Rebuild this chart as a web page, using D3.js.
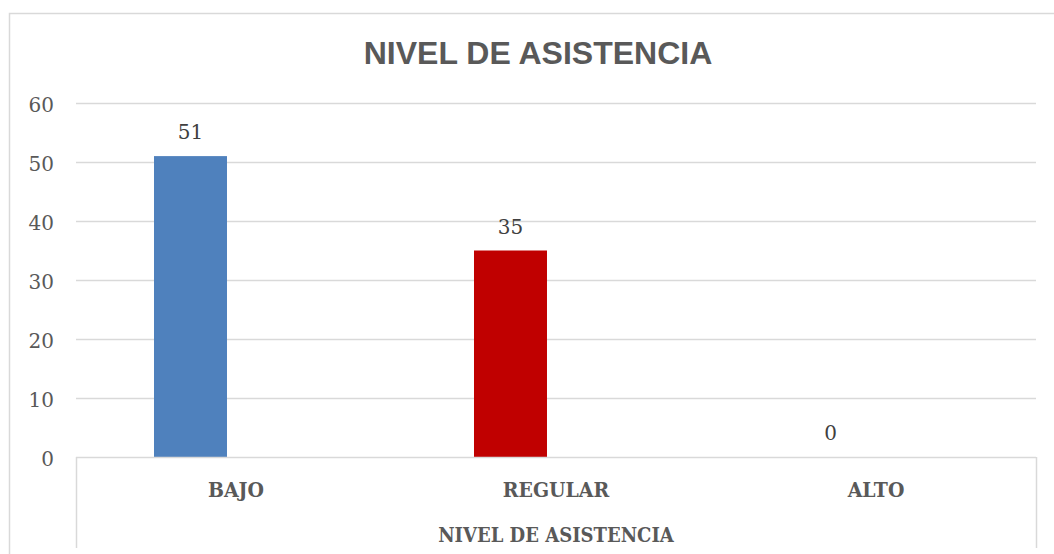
<!DOCTYPE html>
<html>
<head>
<meta charset="utf-8">
<script src="https://cdn.jsdelivr.net/npm/d3@7/dist/d3.min.js"></script>
<style>
  html, body { margin: 0; padding: 0; background: #ffffff; }
  svg { display: block; }
</style>
</head>
<body>
<svg id="chart" width="1054" height="554"></svg>
<script>
const chartTitle = "NIVEL DE ASISTENCIA";
const axisTitle = "NIVEL DE ASISTENCIA";
const categories = ["BAJO", "REGULAR", "ALTO"];
const values = [51, 35, 0];
const barColors = ["#4F81BD", "#C00000", "#9BBB59"];
const seriesNames = ["Serie1", "Serie2"];
const yTicks = [0, 10, 20, 30, 40, 50, 60];

const svg = d3.select("#chart");
const plot = { left: 76, right: 1036, top: 103, bottom: 457 };

// outer chart border
svg.append("rect")
  .attr("x", 9.5).attr("y", 13.5)
  .attr("width", 1060).attr("height", 560)
  .attr("fill", "none").attr("stroke", "#d9d9d9").attr("stroke-width", 1.5);

const x = d3.scaleBand().domain(categories).range([plot.left, plot.right]);
const xs = d3.scaleBand().domain(seriesNames).range([0, x.bandwidth()])
  .paddingInner(0.198).paddingOuter(0.857);
const y = d3.scaleLinear().domain([0, 60]).range([plot.bottom, plot.top]);

// gridlines
svg.append("g")
  .attr("transform", `translate(${plot.left},0)`)
  .call(d3.axisLeft(y).tickValues(yTicks.filter(t => t > 0)).tickSize(-(plot.right - plot.left)).tickFormat(""))
  .call(g => g.select(".domain").remove())
  .call(g => g.selectAll("line").attr("stroke", "#d9d9d9").attr("stroke-width", 1.3));

// y tick labels
svg.append("g")
  .attr("transform", `translate(${plot.left - 22},0)`)
  .call(d3.axisLeft(y).tickValues(yTicks).tickSize(0).tickPadding(0))
  .call(g => g.select(".domain").remove())
  .call(g => g.selectAll("text")
    .attr("font-family", "'DejaVu Serif', serif")
    .attr("font-size", "20px")
    .attr("fill", "#595959")
    .attr("dy", "0.62em")
    .attr("y", -4));

// bars
svg.append("g").selectAll("rect")
  .data(categories)
  .join("rect")
  .attr("x", d => x(d) + xs(seriesNames[0]))
  .attr("width", xs.bandwidth())
  .attr("y", (d, i) => y(values[i]))
  .attr("height", (d, i) => y(0) - y(values[i]))
  .attr("fill", (d, i) => barColors[i]);

// value labels
svg.append("g").selectAll("text")
  .data(categories)
  .join("text")
  .attr("x", d => x(d) + xs(seriesNames[0]) + xs.bandwidth() / 2)
  .attr("y", (d, i) => y(values[i]) - 17)
  .attr("text-anchor", "middle")
  .attr("font-family", "'DejaVu Serif', serif")
  .attr("font-size", "20px")
  .attr("fill", "#404040")
  .text((d, i) => values[i]);

// category axis box
svg.append("line")
  .attr("x1", plot.left).attr("x2", plot.right)
  .attr("y1", plot.bottom + 0.5).attr("y2", plot.bottom + 0.5)
  .attr("stroke", "#d9d9d9").attr("stroke-width", 1.5);
[plot.left, plot.right].forEach(px => {
  svg.append("line")
    .attr("x1", px + 0.5).attr("x2", px + 0.5)
    .attr("y1", plot.bottom).attr("y2", 548)
    .attr("stroke", "#d9d9d9").attr("stroke-width", 1.5);
});

// category labels
svg.append("g")
  .attr("transform", `translate(0,${plot.bottom})`)
  .call(d3.axisBottom(x).tickSize(0).tickPadding(0))
  .call(g => g.select(".domain").remove())
  .call(g => g.selectAll("text")
    .attr("font-family", "'DejaVu Serif Condensed', 'DejaVu Serif', serif")
    .attr("font-weight", "bold")
    .attr("font-size", "21px")
    .attr("fill", "#595959")
    .attr("dy", null)
    .attr("y", 40));

// axis title
svg.append("text")
  .attr("x", (plot.left + plot.right) / 2)
  .attr("y", 542)
  .attr("text-anchor", "middle")
  .attr("font-family", "'DejaVu Serif Condensed', 'DejaVu Serif', serif")
  .attr("font-weight", "bold")
  .attr("font-size", "20px")
  .attr("fill", "#595959")
  .text(axisTitle);

// chart title
svg.append("text")
  .attr("x", 538)
  .attr("y", 64)
  .attr("text-anchor", "middle")
  .attr("font-family", "'Liberation Sans', Arial, sans-serif")
  .attr("font-weight", "bold")
  .attr("font-size", "32px")
  .attr("fill", "#595959")
  .text(chartTitle);
</script>
</body>
</html>
